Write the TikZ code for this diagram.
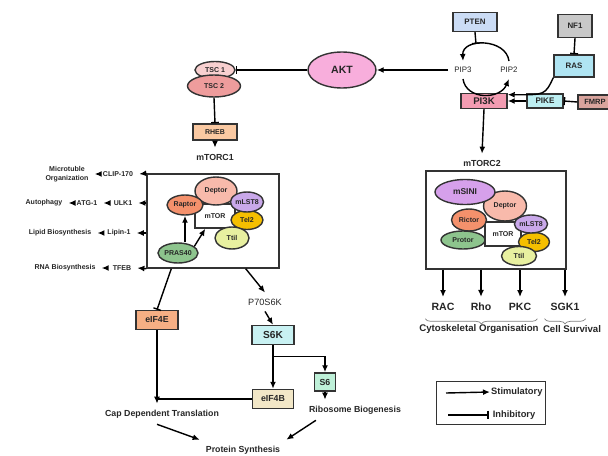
\documentclass[tikz,border=0pt]{standalone}
\usepackage{fontspec}
\setmainfont{Liberation Sans}
\usetikzlibrary{shapes.geometric, decorations.pathreplacing, arrows.meta}

\definecolor{aktpink}{HTML}{F8AEDC}
\definecolor{tscone}{HTML}{F8D0D0}
\definecolor{tsctwo}{HTML}{EE9C9C}
\definecolor{rhebcol}{HTML}{FAC9A2}
\definecolor{deptorcol}{HTML}{F8BAAB}
\definecolor{raptorcol}{HTML}{F4916C}
\definecolor{lstcol}{HTML}{C9A8EA}
\definecolor{telcol}{HTML}{F5BF00}
\definecolor{ttilcol}{HTML}{E8F0A0}
\definecolor{prascol}{HTML}{8DC48D}
\definecolor{sinicol}{HTML}{D6A0EB}
\definecolor{eefourecol}{HTML}{F6AF84}
\definecolor{sixkcol}{HTML}{C8F1F2}
\definecolor{eefourbcol}{HTML}{F2E7C7}
\definecolor{sixcol}{HTML}{BEF0D8}
\definecolor{ptencol}{HTML}{CBDCF5}
\definecolor{nfcol}{HTML}{C8C8C8}
\definecolor{rascol}{HTML}{AFE4F2}
\definecolor{pikcol}{HTML}{F39CB2}
\definecolor{pikecol}{HTML}{BDEFF2}
\definecolor{fmrpcol}{HTML}{D9A49D}

\begin{document}
\begin{tikzpicture}[x=0.02cm, y=-0.02cm, >={Latex[length=4pt, width=3.4pt]}, text=black!85,
	font=\bfseries\fontsize{5}{6}\selectfont,
	klein/.style={font=\bfseries\fontsize{4}{4.8}\selectfont},
	gross/.style={font=\bfseries\fontsize{6}{7}\selectfont},
	duenn/.style={font=\fontsize{5.2}{6}\selectfont},
	hemm/.style={-{Bar[width=4.5pt]}},
	prot/.style={ellipse, draw=black!80, thick, inner sep=0pt, klein},
	kasten/.style={draw=black!80, thick, inner sep=0pt}]
\useasboundingbox (0,0) rectangle (608,456);

	%% AKT und TSC
	\node[prot, fill=aktpink, minimum width=1.36cm, minimum height=0.72cm, gross] (akt) at (342,70) {AKT};
	\node[prot, fill=tscone, minimum width=0.8cm, minimum height=0.34cm] (tsc1) at (215,70) {TSC 1};
	\node[prot, fill=tsctwo, minimum width=1.06cm, minimum height=0.44cm] (tsc2) at (214,86) {TSC 2};
	\node[kasten, fill=rhebcol, minimum width=0.88cm, minimum height=0.32cm, klein] (rheb) at (215,132) {RHEB};
	\node (c1lbl) at (215,157) {mTORC1};
	\draw[thick, hemm] (akt.west) -- (tsc1.east);
	\draw[thick, hemm] (tsc2.south) -- (rheb.north);
	\draw[thick, ->] (rheb.south) -- (c1lbl.north);
	%%%%%%%%%%%%%%%%

%% mTORC1
\begin{scope}
	\node[kasten, fill=white, minimum width=2.64cm, minimum height=1.88cm] (c1) at (213,221) {};
	\node[kasten, fill=white, minimum width=0.8cm, minimum height=0.48cm, klein] (mtor1) at (215,216) {mTOR};
	\node[prot, fill=deptorcol, minimum width=0.84cm, minimum height=0.56cm] (deptor1) at (216,191) {Deptor};
	\node[prot, fill=raptorcol, minimum width=0.72cm, minimum height=0.4cm] (raptor) at (185,205) {Raptor};
	\node[prot, fill=telcol, minimum width=0.64cm, minimum height=0.38cm] (tel1) at (247,220) {Tel2};
	\node[prot, fill=lstcol, minimum width=0.6cm, minimum height=0.4cm] (lst1) at (247,202) {mLST8};
	\node[prot, fill=ttilcol, minimum width=0.68cm, minimum height=0.44cm] (ttil1) at (232,238) {Ttil};
	\node[prot, fill=prascol, minimum width=0.8cm, minimum height=0.4cm] (pras40) at (178,253) {PRAS40};
	\draw[thick, ->] (raptor.south |- pras40.north) -- (raptor.south);
	\draw[thick, ->] (pras40.22) -- ([xshift=0.22cm]mtor1.south west);

	%% Ausgaenge links
	\node[klein] (clip) at (118,174) {CLIP-170};
	\node[klein, align=center] (mikro) at (67,174) {Microtuble\\Organization};
	\node[klein] (ulk) at (123,203) {ULK1};
	\node[klein] (atg) at (87,203) {ATG-1};
	\node[klein] (autoph) at (44,203) {Autophagy};
	\node[klein] (lipin) at (119,233) {Lipin-1};
	\node[klein] (lipid) at (60,233) {Lipid Biosynthesis};
	\node[klein] (tfeb) at (122,268) {TFEB};
	\node[klein] (rna) at (65,268) {RNA Biosynthesis};
	\draw[thick, ->] (c1.north west) -- (clip.east);
	\draw[thick, ->] (clip.west) -- (mikro.east);
	\draw[thick, ->] (c1.west |- ulk) -- (ulk.east);
	\draw[thick, ->] (ulk.west) -- (atg.east);
	\draw[thick, ->] (atg.west) -- (autoph.east);
	\draw[thick, ->] (c1.west |- lipin) -- (lipin.east);
	\draw[thick, ->] (lipin.west) -- (lipid.east);
	\draw[thick, ->] (c1.south west) -- (tfeb.east);
	\draw[thick, ->] (tfeb.west) -- (rna.east);
\end{scope}

%% Translation
\begin{scope}
	\node[kasten, fill=eefourecol, minimum width=0.84cm, minimum height=0.38cm] (eif4e) at (157,320) {eIF4E};
	\node[duenn] (p70) at (265,302) {P70S6K};
	\node[kasten, fill=sixkcol, minimum width=0.84cm, minimum height=0.38cm, font=\bfseries\fontsize{5.8}{7}\selectfont] (s6k) at (273,335) {S6K};
	\node[kasten, fill=eefourbcol, minimum width=0.82cm, minimum height=0.38cm] (eif4b) at (273,399) {eIF4B};
	\node[kasten, fill=sixcol, minimum width=0.42cm, minimum height=0.36cm] (s6) at (325,382) {S6};
	\node (cap) at (162,414) {Cap Dependent Translation};
	\node (ribo) at (355,410) {Ribosome Biogenesis};
	\node (protein) at (243,450) {Protein Synthesis};
	\draw[thick, hemm] ([xshift=0.5cm]c1.south west) -- (eif4e.north);
	\draw[thick, ->] ([xshift=-0.68cm]c1.south east) -- (p70.north);
	\draw[thick, ->] (p70.south) -- (s6k.north);
	\draw[thick, ->] (s6k.south) -- (eif4b.north);
	\draw[thick, ->] ([yshift=-0.22cm]s6k.south) -| (s6.north);
	\draw[thick, ->] (s6.south) -- (ribo.north -| s6.south);
	\draw[thick, ->] (eif4e.south) -- (eif4e.south |- cap.north);
	\draw[thick] (eif4b.west) -- (eif4b.west -| eif4e.south);
	\draw[thick, ->] ([xshift=-0.1cm]cap.south) -- (protein.north west);
	\draw[thick, ->] ([xshift=0.26cm]ribo.south west) -- (protein.north east);
\end{scope}

%% PI3K Signalweg
\begin{scope}
	\node[kasten, fill=ptencol, minimum width=0.88cm, minimum height=0.38cm, font=\bfseries\fontsize{4.5}{5}\selectfont] (pten) at (475,22) {PTEN};
	\node[kasten, fill=nfcol, minimum width=0.68cm, minimum height=0.46cm, font=\bfseries\fontsize{4.5}{5}\selectfont] (nf1) at (575,26) {NF1};
	\node[kasten, fill=rascol, minimum width=0.8cm, minimum height=0.44cm, font=\bfseries\fontsize{4.5}{5}\selectfont] (ras) at (574,66) {RAS};
	\node[duenn, font=\fontsize{4.5}{5}\selectfont] (pip3) at (463,70) {PIP3};
	\node[duenn, font=\fontsize{4.5}{5}\selectfont] (pip2) at (509,70) {PIP2};
	\node[kasten, fill=pikcol, minimum width=0.92cm, minimum height=0.3cm, font=\bfseries\fontsize{5.5}{6}\selectfont] (pi3k) at (484,101) {PI3K};
	\node[kasten, fill=pikecol, minimum width=0.72cm, minimum height=0.28cm, font=\bfseries\fontsize{4.6}{5}\selectfont] (pike) at (545,101) {PIKE};
	\node[kasten, fill=fmrpcol, minimum width=0.68cm, minimum height=0.28cm, font=\bfseries\fontsize{4.3}{5}\selectfont] (fmrp) at (595,102) {FMRP};
	\coordinate (ptenziel) at (476,44);
	\draw[thick, ->] (pip2.north) .. controls (506,38) and (462,38) .. (pip3.north);
	\draw[thick, ->] (pip3.south) .. controls (466,100) and (500,100) .. (pip2.south);
	\draw[thick, hemm] (pten.south) -- (ptenziel);
	\draw[thick, ->] (pip3.west) -- (akt.east);
	\draw[thick, hemm] (nf1.south) -- (ras.north);
	\draw[thick, ->] (ras.south west) .. controls (545,95) .. (pi3k.15);
	\draw[thick, ->] (pike.west) -- (pi3k.east);
	\draw[thick, hemm] (fmrp.west) -- (pike.east);
	\node (c2lbl) at (482,163) {mTORC2};
	\draw[thick, ->] (pi3k.south) -- (c2lbl.north);
\end{scope}

%% mTORC2
\begin{scope}
	\node[kasten, fill=white, minimum width=2.8cm, minimum height=1.96cm] (c2) at (496,220) {};
	\node[kasten, fill=white, minimum width=0.72cm, minimum height=0.48cm, klein] (mtor2) at (503,234) {mTOR};
	\node[prot, fill=deptorcol, minimum width=0.86cm, minimum height=0.6cm] (deptor2) at (505,206) {Deptor};
	\node[prot, fill=sinicol, minimum width=1.2cm, minimum height=0.5cm, font=\bfseries\fontsize{4.8}{5}\selectfont] (msini) at (465,192) {mSINI};
	\node[prot, fill=raptorcol, minimum width=0.7cm, minimum height=0.44cm] (rictor) at (469,220) {Rictor};
	\node[prot, fill=prascol, minimum width=0.88cm, minimum height=0.36cm] (protor) at (463,240) {Protor};
	\node[prot, fill=telcol, minimum width=0.62cm, minimum height=0.38cm] (tel2) at (534,242) {Tel2};
	\node[prot, fill=lstcol, minimum width=0.56cm, minimum height=0.36cm] (lst2) at (531,224) {mLST8};
	\node[prot, fill=ttilcol, minimum width=0.7cm, minimum height=0.38cm] (ttil2) at (519,256) {Ttil};

	%% Ausgaenge unten
	\node[gross] (rac) at (443,307) {RAC};
	\node[gross] (rho) at (481,307) {Rho};
	\node[gross] (pkc) at (520,307) {PKC};
	\node[gross] (sgk) at (565,307) {SGK1};
	\draw[thick, ->] (c2.south -| rac) -- (rac.north);
	\draw[thick, ->] (c2.south -| rho) -- (rho.north);
	\draw[thick, ->] (c2.south -| pkc) -- (pkc.north);
	\draw[thick, ->] (c2.south -| sgk) -- (sgk.north);
	\draw[gray, decorate, decoration={brace, mirror, amplitude=3pt}] ([yshift=-1pt]rac.south west) -- ([yshift=-1pt]pkc.south east);
	\draw[gray, decorate, decoration={brace, mirror, amplitude=3pt}] ([yshift=-1pt]sgk.south west) -- ([yshift=-1pt]sgk.south east);
	\node[font=\bfseries\fontsize{5.5}{6}\selectfont] (cyto) at (479,329) {Cytoskeletal Organisation};
	\node[font=\bfseries\fontsize{5.5}{6}\selectfont] (surv) at (572,329) {Cell Survival};
\end{scope}

%% Legende
\begin{scope}
	\node[kasten, minimum width=2.18cm, minimum height=0.86cm] (leg) at (491,403) {};
	\coordinate (stima) at (446,393);
	\coordinate (inha) at (448,415);
	\node[anchor=west, inner sep=0.5pt, font=\bfseries\fontsize{5.3}{6}\selectfont] (stim) at (490,392) {Stimulatory};
	\node[anchor=west, inner sep=2pt, font=\bfseries\fontsize{5.3}{6}\selectfont] (inh) at (489,415) {Inhibitory};
	\draw[thick, ->] (stima) -- (stim.west);
	\draw[very thick, -{Bar[width=5pt]}] (inha) -- (inh.west);
\end{scope}

%\draw (current bounding box.south west) rectangle (current bounding box.north east);
\end{tikzpicture}
\end{document}
